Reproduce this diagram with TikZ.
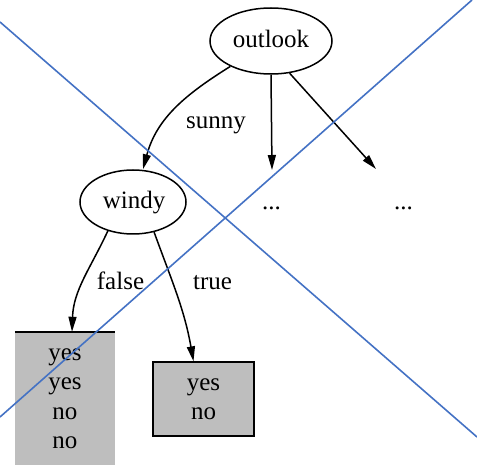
\documentclass[tikz,border=0pt]{standalone}
\usepackage{fontspec}
\setmainfont{Liberation Serif}
\usetikzlibrary{shapes.geometric,arrows.meta}
\definecolor{boxgray}{HTML}{BEBEBE}
\definecolor{crossblue}{HTML}{4472C4}
\begin{document}
\begin{tikzpicture}[x=1pt,y=-1pt,
  every node/.style={font=\fontsize{25}{29.5}\selectfont, inner sep=0pt},
  ell/.style={draw, ellipse, line width=1.5pt},
  leaf/.style={fill=boxgray, align=center, minimum width=100pt},
  edge/.style={line width=1.5pt, -{Triangle[length=15pt,width=8pt]}},
  lbl/.style={anchor=base},
  cross/.style={crossblue, line width=1.6pt}]
\useasboundingbox (0,0) rectangle (477,465);
% nodes
\node[ell, minimum width=122pt, minimum height=66pt] (outlook) at (271,41) {};
\node[lbl] (outlooktxt) at (271,48) {outlook};
\node[ell, minimum width=106pt, minimum height=64pt] (windy) at (133,202) {};
\node[lbl] (windytxt) at (134,209) {windy};
\node[lbl] (d1) at (271.5,210) {...};
\node[lbl] (d2) at (403.5,210) {...};
\coordinate (e1) at (272,170);
\coordinate (e2) at (376,169);
\node[leaf, minimum height=133pt] (lbox) at (65,398.5) {yes\\yes\\no\\no};
\draw[line width=1.5pt] (lbox.north west) -- (lbox.north east);
\node[leaf, draw, line width=1.3pt, minimum width=101pt, minimum height=74pt] (rbox) at (203.5,399) {yes\\no};
% edge labels
\node[lbl] (sunny) at (216,129) {sunny};
\node[lbl] (false) at (120.5,290) {false};
\node[lbl] (true) at (212.5,290) {true};
% edges
\draw[edge] (outlook.212) to[out=212,in=75] ([xshift=10pt]windy.north);
\draw[edge] (outlook.270) -- (e1);
\draw[edge] (outlook.300) -- (e2);
\draw[edge] (windy.229) to[out=245,in=88] ([xshift=7pt]lbox.north);
\draw[edge] (windy.305) to[out=290,in=100] ([xshift=-10pt]rbox.north);
% cross
\coordinate (c1) at (0,22);
\coordinate (c2) at (477,437);
\coordinate (c3) at (0,417);
\coordinate (c4) at (472,0);
\draw[cross] (c1) -- (c2);
\draw[cross] (c3) -- (c4);
\end{tikzpicture}
\end{document}
